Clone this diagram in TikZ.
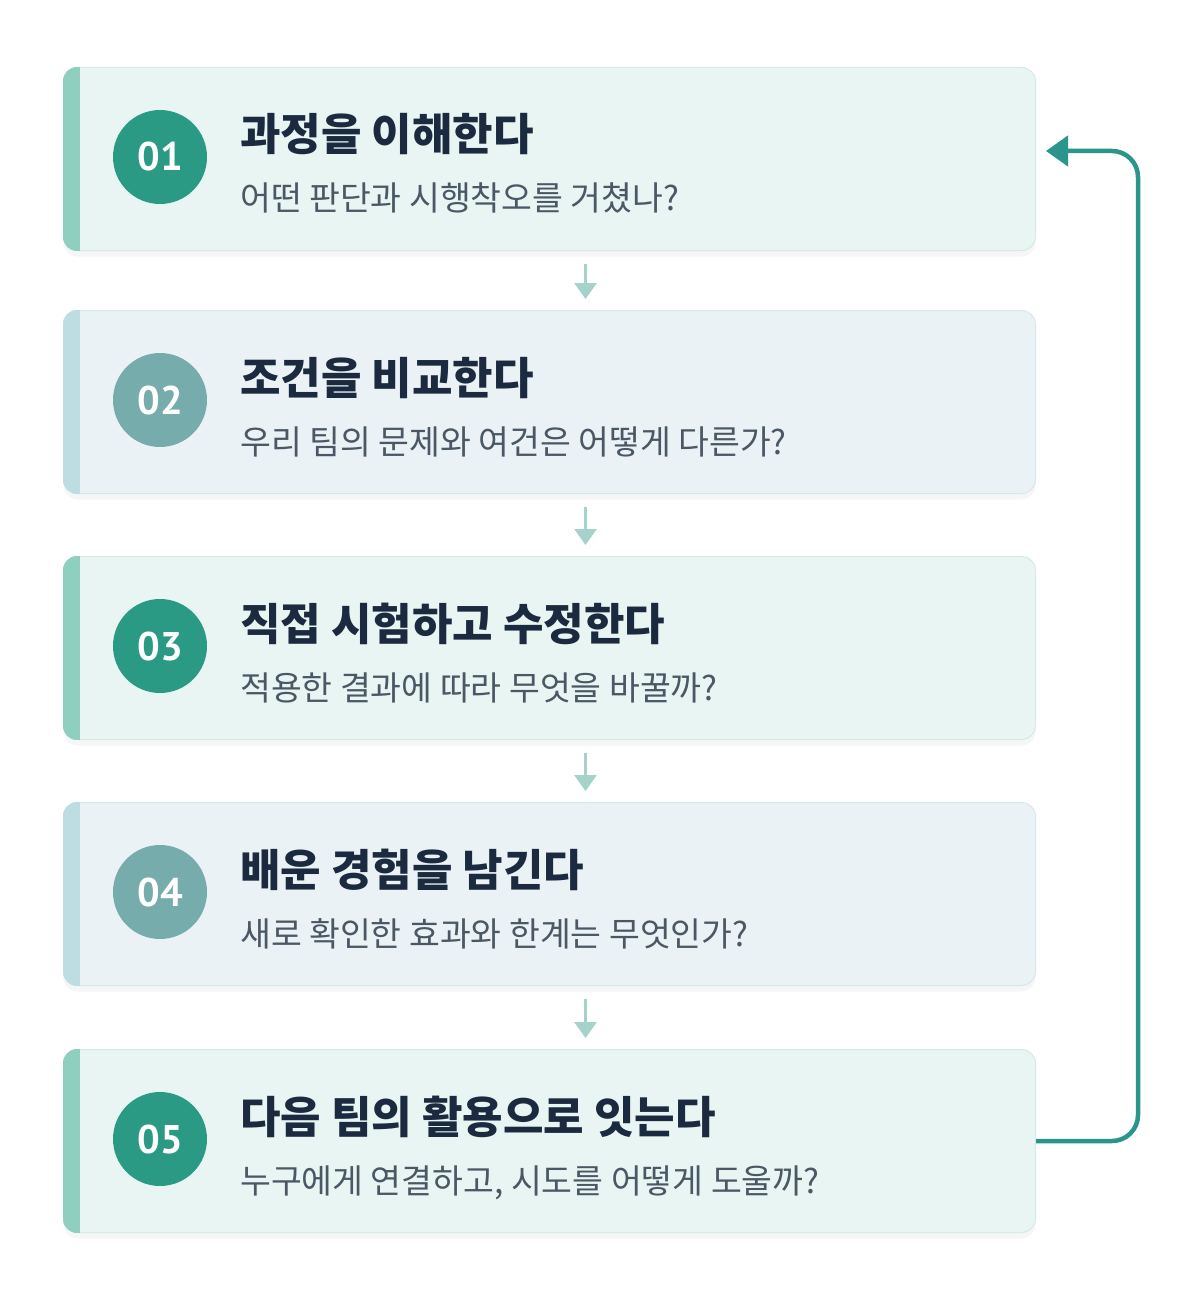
\documentclass[tikz,border=0pt]{standalone}
\usepackage{fontspec}
\setmainfont{Noto Sans CJK KR}
\newfontfamily\numfont{PT Sans}
\usepackage{tikz}
\usetikzlibrary{arrows.meta,shadows,positioning}

\definecolor{barA}{HTML}{8FCFBF}
\definecolor{barB}{HTML}{BEDDE3}
\definecolor{boxA}{HTML}{E8F5F3}
\definecolor{boxB}{HTML}{EAF2F6}
\definecolor{edgeA}{HTML}{D3EBE6}
\definecolor{numA}{HTML}{2A9A85}
\definecolor{numB}{HTML}{77ACAC}
\definecolor{titleC}{HTML}{1B2A3E}
\definecolor{subC}{HTML}{4A5765}
\definecolor{loopC}{HTML}{2A958A}
\definecolor{flowC}{HTML}{A6D2CC}

\begin{document}
\begin{tikzpicture}[x=1pt,y=-1pt,
  stepbox/.style={draw=edgeA,line width=1pt,rounded corners=14pt,anchor=north west,
    minimum width=972pt,minimum height=183pt,inner sep=0pt,
    drop shadow={opacity=0.07,shadow xshift=0pt,shadow yshift=-6pt}},
  numdot/.style={circle,minimum size=94pt,inner sep=0pt,text=white,font=\numfont\fontsize{40}{40}\selectfont\bfseries},
  title/.style={anchor=base west,inner sep=0pt,text=titleC,font=\fontsize{44}{44}\selectfont\bfseries},
  sub/.style={anchor=base west,inner sep=0pt,text=subC,font=\fontsize{33.5}{33.5}\selectfont},
  flow/.style={draw=flowC,line width=3pt,-{Triangle[width=22pt,length=16pt]}},
  back/.style={draw=loopC,line width=4.5pt,rounded corners=26pt,-{Triangle[width=30pt,length=22pt]}}]
\useasboundingbox[fill=white] (0,0) rectangle (1203,1308);

\node[stepbox,fill=boxA] (s1) at (63,67)   {};
\node[stepbox,fill=boxB] (s2) at (63,310)  {};
\node[stepbox,fill=boxA] (s3) at (63,556)  {};
\node[stepbox,fill=boxB] (s4) at (63,802)  {};
\node[stepbox,fill=boxA] (s5) at (63,1049) {};

\begin{scope}
  \clip[rounded corners=14pt] (s1.north west) rectangle (s1.south east);
  \fill[barA] (s1.north west) rectangle ([xshift=17pt]s1.south west);
\end{scope}
\begin{scope}
  \clip[rounded corners=14pt] (s2.north west) rectangle (s2.south east);
  \fill[barB] (s2.north west) rectangle ([xshift=17pt]s2.south west);
\end{scope}
\begin{scope}
  \clip[rounded corners=14pt] (s3.north west) rectangle (s3.south east);
  \fill[barA] (s3.north west) rectangle ([xshift=17pt]s3.south west);
\end{scope}
\begin{scope}
  \clip[rounded corners=14pt] (s4.north west) rectangle (s4.south east);
  \fill[barB] (s4.north west) rectangle ([xshift=17pt]s4.south west);
\end{scope}
\begin{scope}
  \clip[rounded corners=14pt] (s5.north west) rectangle (s5.south east);
  \fill[barA] (s5.north west) rectangle ([xshift=17pt]s5.south west);
\end{scope}

\node[numdot,fill=numA] (n1) at ([xshift=97pt,yshift=2pt]s1.west) {01};
\node[numdot,fill=numB] (n2) at ([xshift=97pt,yshift=2pt]s2.west) {02};
\node[numdot,fill=numA] (n3) at ([xshift=97pt,yshift=2pt]s3.west) {03};
\node[numdot,fill=numB] (n4) at ([xshift=97pt,yshift=2pt]s4.west) {04};
\node[numdot,fill=numA] (n5) at ([xshift=97pt,yshift=2pt]s5.west) {05};

\node[title] (t1) at ([xshift=177pt,yshift=8pt]s1.west) {과정을 이해한다};
\node[sub]   (q1) at ([xshift=177pt,yshift=-52pt]s1.west) {어떤 판단과 시행착오를 거쳤나?};
\node[title] (t2) at ([xshift=177pt,yshift=8pt]s2.west) {조건을 비교한다};
\node[sub]   (q2) at ([xshift=177pt,yshift=-52pt]s2.west) {우리 팀의 문제와 여건은 어떻게 다른가?};
\node[title] (t3) at ([xshift=177pt,yshift=8pt]s3.west) {직접 시험하고 수정한다};
\node[sub]   (q3) at ([xshift=177pt,yshift=-52pt]s3.west) {적용한 결과에 따라 무엇을 바꿀까?};
\node[title] (t4) at ([xshift=177pt,yshift=8pt]s4.west) {배운 경험을 남긴다};
\node[sub]   (q4) at ([xshift=177pt,yshift=-52pt]s4.west) {새로 확인한 효과와 한계는 무엇인가?};
\node[title] (t5) at ([xshift=177pt,yshift=8pt]s5.west) {다음 팀의 활용으로 잇는다};
\node[sub]   (q5) at ([xshift=177pt,yshift=-52pt]s5.west) {누구에게 연결하고, 시도를 어떻게 도울까?};

\draw[flow] ([xshift=36pt,yshift=-13pt]s1.south) -- ([xshift=36pt,yshift=11pt]s2.north);
\draw[flow] ([xshift=36pt,yshift=-13pt]s2.south) -- ([xshift=36pt,yshift=11pt]s3.north);
\draw[flow] ([xshift=36pt,yshift=-13pt]s3.south) -- ([xshift=36pt,yshift=11pt]s4.north);
\draw[flow] ([xshift=36pt,yshift=-13pt]s4.south) -- ([xshift=36pt,yshift=11pt]s5.north);

\coordinate (in1) at ([xshift=10pt,yshift=8pt]s1.east);
\draw[back] (s5.east) -- ++(102,0) |- (in1);
\end{tikzpicture}
\end{document}
